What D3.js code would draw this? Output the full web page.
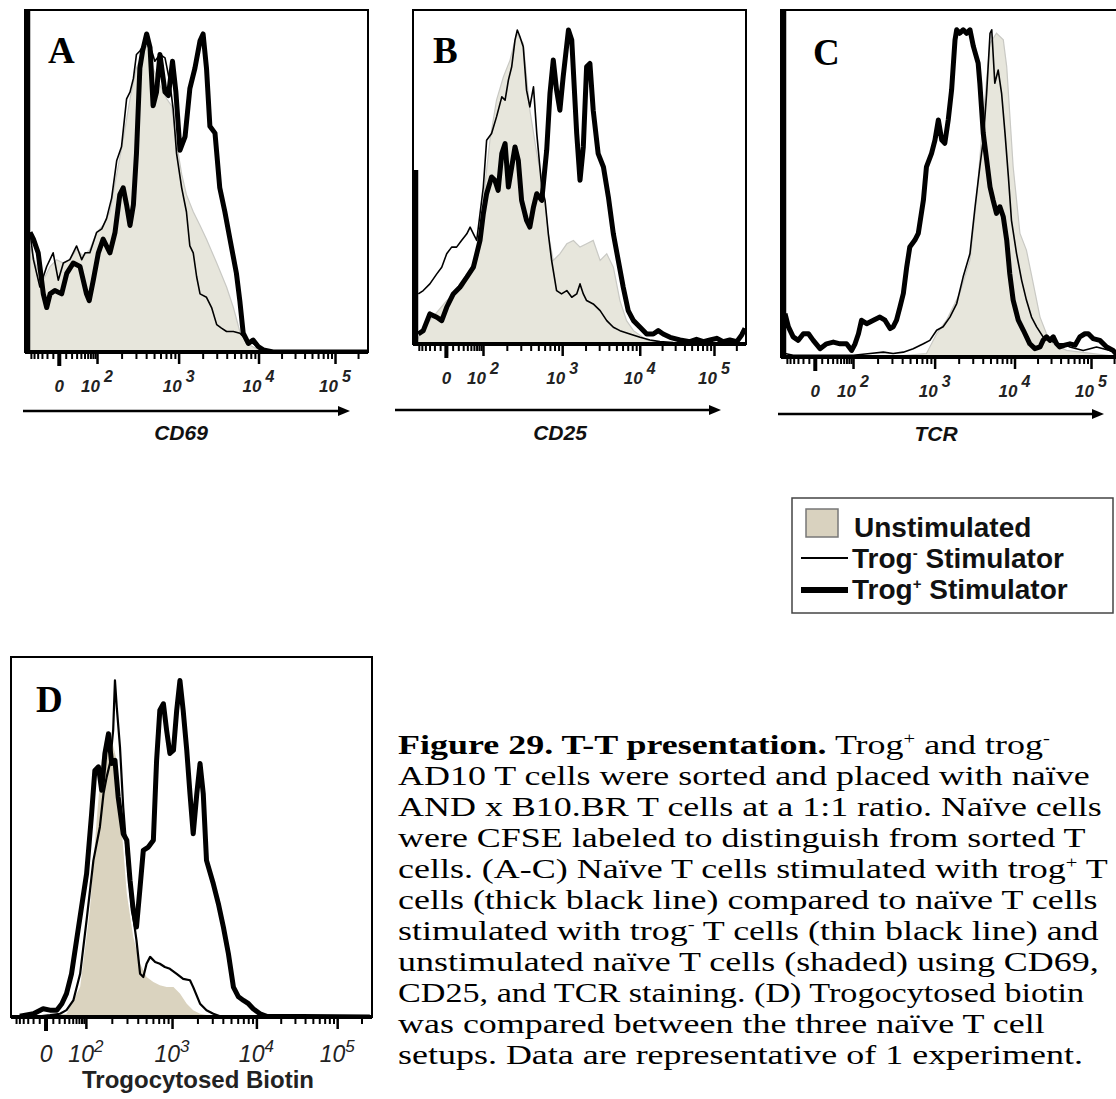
<!DOCTYPE html>
<html><head><meta charset="utf-8">
<script src="https://cdn.jsdelivr.net/npm/d3@7"></script>
<style>body{margin:0;background:#fff}svg{display:block}</style>
</head><body>
<svg id="c" width="1116" height="1099"></svg>
<script>
// ---------------- DATA (x = display channel 0-1000, y = % of max) ----------------
const panelLetters = ["A", "B", "C", "D"];
const axisTitles = ["CD69", "CD25", "TCR", "Trogocytosed Biotin"];
const majorTickValues = [0, 100, 1000, 10000, 100000];
const majorTickBase = ["0", "10", "10", "10", "10"];
const majorTickExp = ["", "2", "3", "4", "5"];
const seriesNames = ["Unstimulated", "Trog- Stimulator", "Trog+ Stimulator"];

const cd69Unstim = [[0,0],[6,31],[25,25],[45,21],[65,25],[84,27],[104,26],[123,27],[143,30],[163,28],[182,30],[202,35],[221,37],[241,41],[261,52],[280,62],[300,74],[319,83],[339,88],[354,90],[368,83],[388,78],[408,74],[422,72],[437,61],[452,52],[466,46],[486,41],[506,37],[525,33],[555,26],[584,19],[604,13],[623,6],[643,2.5],[672,1],[702,0],[1000,0]];
const cd69TrogNeg = [[6,35],[16,27],[35,19],[55,25],[74,29],[89,21],[104,26],[123,27],[143,31],[158,27],[168,29],[182,29],[202,35],[217,36],[231,39],[246,45],[261,56],[275,60],[290,74],[300,76],[310,80],[319,87],[329,88],[349,91],[364,88],[373,85],[388,87],[403,86],[417,79],[427,71],[437,58],[452,48],[466,41],[476,31],[486,29],[496,22],[506,17],[525,16],[540,13],[555,8],[569,7],[584,6],[604,6],[623,5.5],[643,3.5],[662,2.5],[682,1],[702,0.4],[1000,0]];
const cd69TrogPos = [[6,35],[16,33],[30,29],[45,17],[55,13],[65,17],[79,18],[99,17],[114,23],[133,26],[153,25],[172,17],[180,15],[192,21],[207,29],[221,33],[241,29],[256,35],[270,46],[280,48],[290,43],[300,37],[310,43],[319,58],[329,83],[337,88],[349,93],[359,89],[368,72],[378,76],[388,87],[403,76],[413,75],[425,85],[435,76],[447,59],[462,63],[476,77],[491,83],[506,91],[515,93],[525,83],[535,66],[550,64],[564,48],[579,41],[594,33],[613,23],[623,15],[633,5.5],[648,2.5],[662,3.5],[677,1.6],[692,0.6],[721,0],[1000,0]];

const cd25Unstim = [[0,0],[12,3],[42,7],[93,13],[143,17],[184,27],[204,43],[224,61],[244,73],[265,80],[285,85],[305,93],[325,90],[345,70],[366,57],[386,47],[401,33],[416,25],[436,27],[457,30],[477,31],[497,29],[517,30],[537,31],[558,25],[578,27],[598,23],[618,13],[638,7],[659,4],[699,1.2],[749,0.2],[1000,0]];
const cd25TrogNeg = [[7,15],[22,16],[42,18],[63,21],[78,23],[93,27],[108,29],[123,29],[138,31],[154,33],[164,35],[174,33],[184,31],[194,39],[204,47],[214,61],[229,63],[244,68],[260,74],[270,73],[280,79],[290,83],[300,91],[307,94],[315,92],[325,89],[335,76],[345,71],[356,77],[366,63],[381,47],[391,43],[401,33],[411,25],[426,16],[441,15],[457,16],[472,14],[487,15],[497,18],[507,15],[517,13],[537,12],[558,10],[578,7],[598,5],[618,4],[648,3],[679,2],[709,1.2],[739,0.7],[780,0.4],[997,0.2]];
const cd25TrogPos = [[7,3],[22,4],[42,9],[63,8],[78,7],[93,11],[113,15],[133,17],[154,20],[174,23],[194,31],[204,39],[214,45],[229,50],[239,49],[249,46],[260,57],[270,60],[280,47],[290,53],[300,59],[310,55],[320,43],[335,37],[345,35],[356,41],[366,45],[381,43],[396,58],[406,75],[416,85],[426,76],[436,70],[446,80],[462,94],[472,91],[487,63],[497,49],[507,59],[517,83],[527,84],[537,70],[552,57],[568,53],[583,44],[598,33],[613,25],[628,17],[643,10],[659,7],[679,5],[699,3],[719,3],[734,4],[749,3],[770,2],[800,1.2],[830,0.7],[850,1.4],[871,0.7],[891,1.2],[911,1.7],[931,0.7],[951,1.2],[972,0.7],[987,2.7],[997,4.7]];

const tcrUnstim = [[0,0],[321,0.2],[419,1],[449,6.7],[478,10.6],[517,18.3],[547,27.9],[566,45.2],[586,69.3],[606,90.4],[625,93.3],[645,91.4],[655,83.7],[674,54.8],[694,35.6],[713,30.8],[733,21.2],[753,11.5],[772,6.7],[792,3.8],[831,1.9],[909,1],[976,0.2],[1000,0]];
const tcrTrogNeg = [[3,1],[27,0.5],[125,0.5],[204,0.5],[253,1],[292,1.4],[321,1],[351,1.4],[380,2.4],[410,3.8],[429,4.8],[449,7.7],[468,8.7],[488,11.5],[508,15.4],[527,23.1],[547,29.8],[562,43.3],[576,54.8],[586,62.5],[596,76],[606,93.3],[611,94.3],[620,78.9],[630,82.7],[640,76],[650,64.5],[660,51.9],[669,39.4],[684,29.8],[699,22.1],[713,16.4],[728,11.5],[743,8.7],[762,5.8],[782,4.8],[802,3.8],[821,3.8],[841,2.9],[860,2.4],[880,1.9],[900,2.4],[919,2.9],[939,2.4],[958,1.9],[976,1],[1000,0.5]];
const tcrTrogPos = [[3,12.5],[13,8.7],[27,5.8],[42,4.8],[57,6.7],[72,6.7],[86,4.8],[106,2.4],[125,3.8],[145,4.3],[165,3.8],[184,3.8],[199,1.9],[209,3.8],[219,6.7],[228,10.6],[243,9.6],[263,10.6],[282,11.5],[297,10.6],[312,8.2],[321,8.7],[331,10.6],[341,14.4],[351,18.3],[361,26],[370,31.7],[385,33.7],[395,35.6],[410,45.2],[419,54.8],[434,58.7],[444,62.5],[454,68.3],[464,62.5],[473,61.6],[483,68.3],[493,77],[503,91.4],[508,94.3],[517,93.3],[527,94.3],[537,93.3],[547,94.3],[557,89.5],[571,84.7],[576,78.9],[586,64.5],[596,56.8],[606,49],[615,45.2],[625,41.4],[635,43.3],[645,40.4],[655,33.7],[664,24],[674,16.4],[689,10.6],[704,7.7],[723,3.8],[738,2.4],[753,2.9],[762,4.8],[772,5.8],[782,4.8],[792,5.8],[802,3.8],[811,2.9],[826,3.4],[841,3.8],[856,3.4],[870,5.8],[885,6.7],[895,6.7],[909,5.3],[929,4.8],[949,2.9],[968,1.9],[976,1],[1000,0.5]];

const biotinUnstim = [[10,0],[57,0],[149,0.9],[187,8.3],[214,29.6],[233,54.6],[247,71.3],[261,79.6],[275,76.9],[289,71.3],[298,58.3],[317,34.3],[335,22.2],[354,14.8],[372,11.1],[391,9.7],[409,8.8],[428,8.3],[447,8.3],[465,6.5],[484,3.7],[502,1.9],[521,0.9],[558,0.2],[994,0]];
const biotinTrogNeg = [[57,0],[103,0.5],[131,0.9],[149,1.9],[168,4.6],[187,12],[205,26.9],[224,43.5],[242,52.8],[252,62],[261,66.7],[270,70.4],[279,79.6],[284,93.5],[289,86.1],[298,75],[307,58.3],[317,45.4],[331,30.6],[344,21.3],[354,12],[363,11.1],[372,14.8],[382,16.7],[396,15.3],[409,14.8],[423,13.9],[437,13.4],[456,12],[474,10.6],[493,10.2],[502,8.3],[521,3.7],[539,1.9],[558,0.9],[577,0.2],[994,0]];
const biotinTrogPos = [[19,0.2],[57,0.9],[84,2.3],[103,1.9],[122,1.9],[136,3.7],[149,6.5],[163,12],[177,21.3],[191,30.6],[205,39.8],[219,56.5],[228,68.5],[238,69.5],[247,63],[256,73.2],[266,78.7],[275,70.4],[284,71.3],[293,61.1],[307,50.9],[317,49.1],[326,38],[335,29.6],[344,25],[354,36.1],[363,46.3],[377,47.2],[391,49.1],[400,71.3],[409,85.2],[419,87],[428,79.6],[437,73.2],[447,74.1],[456,85.2],[465,93.5],[474,85.2],[484,74.1],[493,62],[502,50.9],[512,62],[521,70.4],[530,62],[539,43.5],[558,37],[572,31.5],[586,25],[600,17.6],[614,8.3],[628,5.6],[642,4.6],[656,3.7],[669,2.3],[688,0.9],[707,0.2],[994,0]];

const panelData = [
  [cd69Unstim, cd69TrogNeg, cd69TrogPos],
  [cd25Unstim, cd25TrogNeg, cd25TrogPos],
  [tcrUnstim, tcrTrogNeg, tcrTrogPos],
  [biotinUnstim, biotinTrogNeg, biotinTrogPos]
];

const captionLines = [
  [["b","Figure 29. T-T presentation."],["r"," Trog"],["sup","+"],["r"," and trog"],["sup","-"]],
  [["r","AD10 T cells were sorted and placed with naïve"]],
  [["r","AND x B10.BR T cells at a 1:1 ratio. Naïve cells"]],
  [["r","were CFSE labeled to distinguish from sorted T"]],
  [["r","cells. (A-C) Naïve T cells stimulated with trog"],["sup","+"],["r"," T"]],
  [["r","cells (thick black line) compared to naïve T cells"]],
  [["r","stimulated with trog"],["sup","-"],["r"," T cells (thin black line) and"]],
  [["r","unstimulated naïve T cells (shaded) using CD69,"]],
  [["r","CD25, and TCR staining. (D) Trogocytosed biotin"]],
  [["r","was compared between the three naïve T cell"]],
  [["r","setups. Data are representative of 1 experiment."]]
];

// ---------------- LAYOUT ----------------
const svg = d3.select("#c");
const layout = [
  {x0:28, x1:368, yTop:10, yBot:352, fL:25, fR:368, thick:[10,352], arrow:[23,350,411], title:[181,440], letter:[48,63], style:"abc", fill:"#e7e6dc"},
  {x0:416, x1:746, yTop:10, yBot:344, fL:413, fR:746, thick:[170,344], arrow:[395,721,410], title:[560,440], letter:[433,63], style:"abc", fill:"#e7e6dc"},
  {x0:784, x1:1124, yTop:10, yBot:357, fL:781, fR:1124, thick:[10,357], arrow:[778,1104,414], title:[936,441], letter:[813,65], style:"abc", fill:"#e7e6dc"},
  {x0:13, x1:372, yTop:657, yBot:1017, fL:11, fR:372, thick:null, arrow:null, title:[198,1088], letter:[36,712], style:"d", fill:"#dad3bf"}
];

// display transform (logicle-like) from fluorescence value to channel
const decadeAnchors = [[2,203],[3,443],[4,678],[5,903]];
function toChannel(v){
  if (v >= 100) {
    const l = Math.log10(v);
    for (let i = 0; i < decadeAnchors.length - 1; i++) {
      const a = decadeAnchors[i], b = decadeAnchors[i+1];
      if (l <= b[0]) return a[1] + (l - a[0]) * (b[1] - a[1]);
    }
    const a = decadeAnchors[decadeAnchors.length-1];
    return a[1] + (l - a[0]) * 225;
  }
  return 92 + 111 * Math.asinh(v/30) / Math.asinh(100/30);
}
const minorVals = [];
for (let k = -9; k <= 9; k++) if (k !== 0) minorVals.push(k*10);
[100,1000,10000,100000].forEach(d => { for (let k = 2; k <= 9; k++) minorVals.push(k*d); });
const minorCh = minorVals.map(toChannel).filter(c => c >= 2 && c <= 998);
const majorCh = majorTickValues.map(toChannel);

const defs = svg.append("defs");

layout.forEach((L, i) => {
  const g = svg.append("g");
  const x = d3.scaleLinear().domain([0,1000]).range([L.x0, L.x1]);
  const y = d3.scaleLinear().domain([0,100]).range([L.yBot, L.yTop]);
  const cid = "clip" + i;
  defs.append("clipPath").attr("id", cid).append("rect")
    .attr("x", L.fL).attr("y", L.yTop).attr("width", L.fR - L.fL).attr("height", L.yBot - L.yTop);

  const [unst, neg, pos] = panelData[i];
  const area = d3.area().x(d => x(d[0])).y0(L.yBot).y1(d => y(d[1]));
  const line = d3.line().x(d => x(d[0])).y(d => y(d[1]));
  const plot = g.append("g").attr("clip-path", `url(#${cid})`);
  plot.append("path").datum(unst).attr("d", area).attr("fill", L.fill)
    .attr("stroke", L.style === "abc" ? "#c9c9c4" : "none").attr("stroke-width", 1.2);
  plot.append("path").datum(neg).attr("d", line).attr("fill", "none")
    .attr("stroke", "#000").attr("stroke-width", L.style === "d" ? 2.2 : 1.6).attr("stroke-linejoin", "round");
  plot.append("path").datum(pos).attr("d", line).attr("fill", "none")
    .attr("stroke", "#000").attr("stroke-width", 5).attr("stroke-linejoin", "round");

  // frame
  g.append("rect").attr("x", L.fL).attr("y", L.yTop).attr("width", L.fR - L.fL).attr("height", L.yBot - L.yTop)
    .attr("fill", "none").attr("stroke", "#000").attr("stroke-width", 2);
  if (L.thick) g.append("line").attr("x1", L.fL + 2.5).attr("x2", L.fL + 2.5).attr("y1", L.thick[0]).attr("y2", L.thick[1])
    .attr("stroke", "#000").attr("stroke-width", 5.5);
  g.append("line").attr("x1", L.fL).attr("x2", L.fR).attr("y1", L.yBot).attr("y2", L.yBot)
    .attr("stroke", "#000").attr("stroke-width", 4);

  // ticks
  const ax = g.append("g").attr("transform", `translate(0,${L.yBot})`);
  ax.append("g").call(d3.axisBottom(x).tickValues(minorCh).tickSize(7).tickFormat(""))
    .call(s => s.select(".domain").remove()).selectAll("line").attr("stroke-width", 2);
  ax.append("g").call(d3.axisBottom(x).tickValues(majorCh).tickSize(12).tickFormat(""))
    .call(s => s.select(".domain").remove()).selectAll("line").attr("stroke-width", 2.5);
  ax.append("line").attr("x1", x(majorCh[0])).attr("x2", x(majorCh[0])).attr("y1", 0).attr("y2", 14)
    .attr("stroke", "#000").attr("stroke-width", 4);

  // tick labels
  majorCh.forEach((c, j) => {
    if (L.style === "abc") {
      const t = g.append("text").attr("x", x(c)).attr("y", L.yBot + 40).attr("text-anchor", "middle")
        .attr("font-family", "Liberation Sans, Arial, sans-serif").attr("font-weight", "bold").attr("font-style", "italic")
        .attr("font-size", 17).attr("fill", "#222");
      t.append("tspan").text(majorTickBase[j]);
      if (majorTickExp[j]) t.append("tspan").attr("dx", 4).attr("dy", -10).attr("font-size", 16).text(majorTickExp[j]);
    } else {
      const t = g.append("text").attr("x", x(c)).attr("y", L.yBot + 45).attr("text-anchor", "middle")
        .attr("font-family", "Liberation Sans, Arial, sans-serif").attr("font-style", "italic")
        .attr("font-size", 23).attr("fill", "#222");
      t.append("tspan").text(majorTickBase[j]);
      if (majorTickExp[j]) t.append("tspan").attr("dy", -10).attr("font-size", 17).text(majorTickExp[j]);
    }
  });

  // axis title + arrow
  if (L.arrow) {
    const [a0, a1, ay] = L.arrow;
    g.append("line").attr("x1", a0).attr("x2", a1 - 6).attr("y1", ay).attr("y2", ay).attr("stroke", "#000").attr("stroke-width", 2.5);
    g.append("path").attr("d", `M${a1},${ay} L${a1-12},${ay-5} L${a1-12},${ay+5} Z`).attr("fill", "#000");
    g.append("text").attr("x", L.title[0]).attr("y", L.title[1]).attr("text-anchor", "middle")
      .attr("font-family", "Liberation Sans, Arial, sans-serif").attr("font-weight", "bold").attr("font-style", "italic")
      .attr("font-size", 21).attr("fill", "#111").text(axisTitles[i]);
  } else {
    g.append("text").attr("x", L.title[0]).attr("y", L.title[1]).attr("text-anchor", "middle")
      .attr("font-family", "Liberation Sans, Arial, sans-serif").attr("font-weight", "bold")
      .attr("font-size", 24).attr("fill", "#222").text(axisTitles[i]);
  }
  // panel letter
  g.append("text").attr("x", L.letter[0]).attr("y", L.letter[1])
    .attr("font-family", "Liberation Serif, Times New Roman, serif").attr("font-weight", "bold")
    .attr("font-size", 37).attr("fill", "#000").text(panelLetters[i]);
});

// ---------------- LEGEND ----------------
const lg = svg.append("g");
lg.append("rect").attr("x", 792).attr("y", 498).attr("width", 321).attr("height", 115)
  .attr("fill", "#fff").attr("stroke", "#444").attr("stroke-width", 1.5);
lg.append("rect").attr("x", 806).attr("y", 509).attr("width", 32).attr("height", 28)
  .attr("fill", "#d9d2bf").attr("stroke", "#777").attr("stroke-width", 1.5);
lg.append("line").attr("x1", 801).attr("x2", 848).attr("y1", 558).attr("y2", 558).attr("stroke", "#000").attr("stroke-width", 2);
lg.append("line").attr("x1", 801).attr("x2", 848).attr("y1", 590).attr("y2", 590).attr("stroke", "#000").attr("stroke-width", 6);
const legY = [537, 568, 599];
seriesNames.forEach((nm, k) => {
  const t = lg.append("text").attr("x", k === 0 ? 854 : 852).attr("y", legY[k])
    .attr("font-family", "Liberation Sans, Arial, sans-serif").attr("font-weight", "bold")
    .attr("font-size", 28).attr("fill", "#111");
  if (k === 0) t.text(nm);
  else {
    const parts = nm.split(" ");
    t.append("tspan").text("Trog");
    t.append("tspan").attr("dy", -10).attr("font-size", 15).text(parts[0].slice(4));
    t.append("tspan").attr("dy", 10).text(" Stimulator");
  }
});

// ---------------- CAPTION ----------------
const cap = svg.append("g");
captionLines.forEach((segs, li) => {
  const sx = li === 8 ? 1.22 : 1.285;
  const t = cap.append("text").attr("transform", `translate(398,${754 + li * 31})scale(${sx},1)`)
    .attr("font-family", "Liberation Serif, Times New Roman, serif").attr("font-size", 28).attr("fill", "#000");
  let raised = false;
  segs.forEach(([kind, txt]) => {
    const ts = t.append("tspan").text(txt);
    if (kind === "b") ts.attr("font-weight", "bold");
    if (kind === "sup") { ts.attr("font-size", 16).attr("dy", -10); raised = true; }
    else if (raised) { ts.attr("dy", 10); raised = false; }
  });
});
</script>
</body></html>
